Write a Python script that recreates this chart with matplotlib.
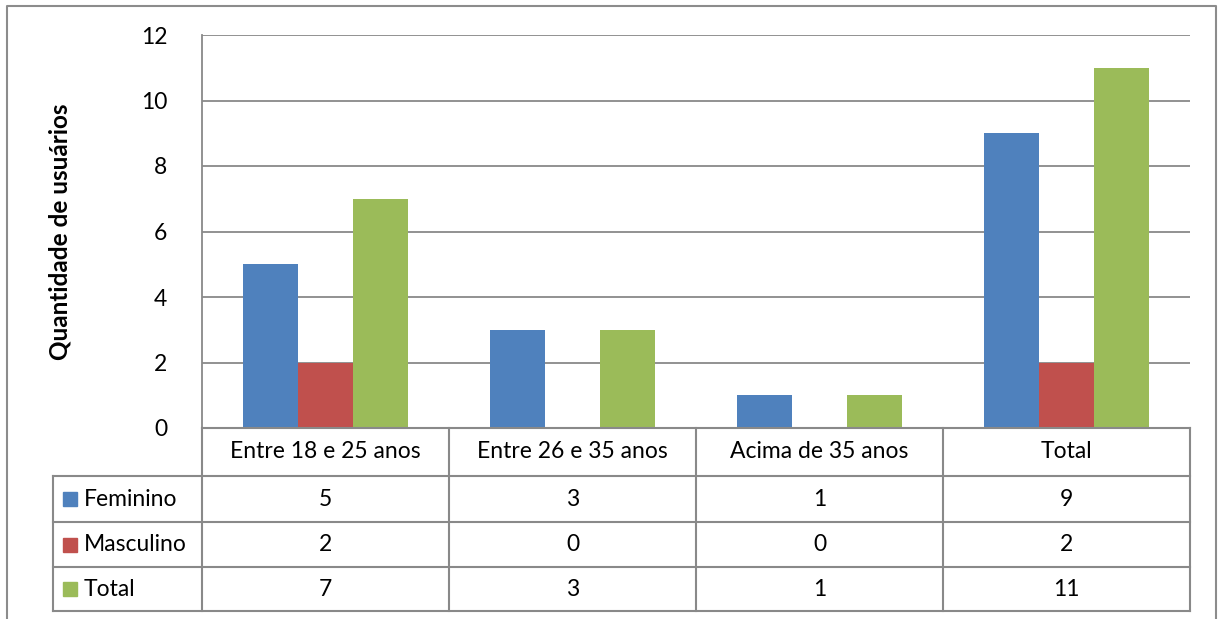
import matplotlib
matplotlib.use("Agg")
import matplotlib.pyplot as plt
from matplotlib.lines import Line2D
from matplotlib.patches import Rectangle

categories = ["Entre 18 e 25 anos", "Entre 26 e 35 anos", "Acima de 35 anos", "Total"]
series_names = ["Feminino", "Masculino", "Total"]
feminino = [5, 3, 1, 9]
masculino = [2, 0, 0, 2]
total = [7, 3, 1, 11]
series_values = [feminino, masculino, total]
colors = ["#4F81BD", "#C0504D", "#9BBB59"]
y_ticks = [0, 2, 4, 6, 8, 10, 12]
y_label = "Quantidade de usuários"

W, H = 1219, 619
plt.rcParams['font.family'] = ['Lato', 'DejaVu Sans']
fig = plt.figure(figsize=(W / 100, H / 100), dpi=100)

def fx(x):
    return x / W

def fy(y):
    return 1 - y / H

GRAY = "#898989"

# plot area
L, R, T, B = 202, 1190, 35, 428
ax = fig.add_axes([fx(L), fy(B), fx(R) - fx(L), fy(T) - fy(B)])
n = len(categories)
bw = 55 / 247
for i, (vals, c) in enumerate(zip(series_values, colors)):
    xs = [k + (i - 1) * bw for k in range(n)]
    ax.bar(xs, vals, width=bw, color=c, zorder=3, linewidth=0)
ax.set_xlim(-0.5, n - 0.5)
ax.set_ylim(0, 12)
ax.set_yticks(y_ticks)
ax.set_yticklabels([str(t) for t in y_ticks], fontsize=16.5)
ax.tick_params(axis='y', length=0, pad=25)
ax.set_xticks([])
ax.yaxis.grid(True, color=GRAY, linewidth=1.3, zorder=0)
for s in ["top", "right", "bottom"]:
    ax.spines[s].set_visible(False)
ax.spines["left"].set_color(GRAY)
ax.spines["left"].set_linewidth(1.3)
ax.set_ylabel(y_label, fontsize=17.5, fontweight='bold', labelpad=50)

# table
def hline(x0, x1, y):
    fig.add_artist(Line2D([fx(x0), fx(x1)], [fy(y), fy(y)], color=GRAY, lw=1.5, transform=fig.transFigure))

def vline(x, y0, y1):
    fig.add_artist(Line2D([fx(x), fx(x)], [fy(y0), fy(y1)], color=GRAY, lw=1.5, transform=fig.transFigure))

col_w = (R - L) / n
rows_y = [428, 476, 522, 567, 611]
LEG_L = 53
hline(L, R, rows_y[0])
for y in rows_y[1:]:
    hline(LEG_L, R, y)
vline(LEG_L, rows_y[1], rows_y[-1])
vline(L, rows_y[0], rows_y[-1])
vline(R, rows_y[0], rows_y[-1])
for k in range(1, n):
    vline(L + k * col_w, rows_y[0], rows_y[-1])

fs = 16.5
for k, cat in enumerate(categories):
    fig.text(fx(L + (k + 0.5) * col_w), fy((rows_y[0] + rows_y[1]) / 2), cat,
             ha='center', va='center', fontsize=fs)
for i, (name, vals, c) in enumerate(zip(series_names, series_values, colors)):
    yc = (rows_y[i + 1] + rows_y[i + 2]) / 2
    fig.add_artist(Rectangle((fx(63), fy(yc + 7)), fx(14), 14 / H, color=c,
                             transform=fig.transFigure))
    fig.text(fx(84), fy(yc), name, ha='left', va='center', fontsize=fs)
    for k, v in enumerate(vals):
        fig.text(fx(L + (k + 0.5) * col_w), fy(yc), str(v), ha='center', va='center', fontsize=fs)

# outer frame
fig.add_artist(Line2D([fx(7), fx(7), fx(1216), fx(1216)], [0, fy(6), fy(6), 0],
                      color="#8c8c8c", lw=1.5, transform=fig.transFigure))

fig.savefig("out.png", dpi=100)
